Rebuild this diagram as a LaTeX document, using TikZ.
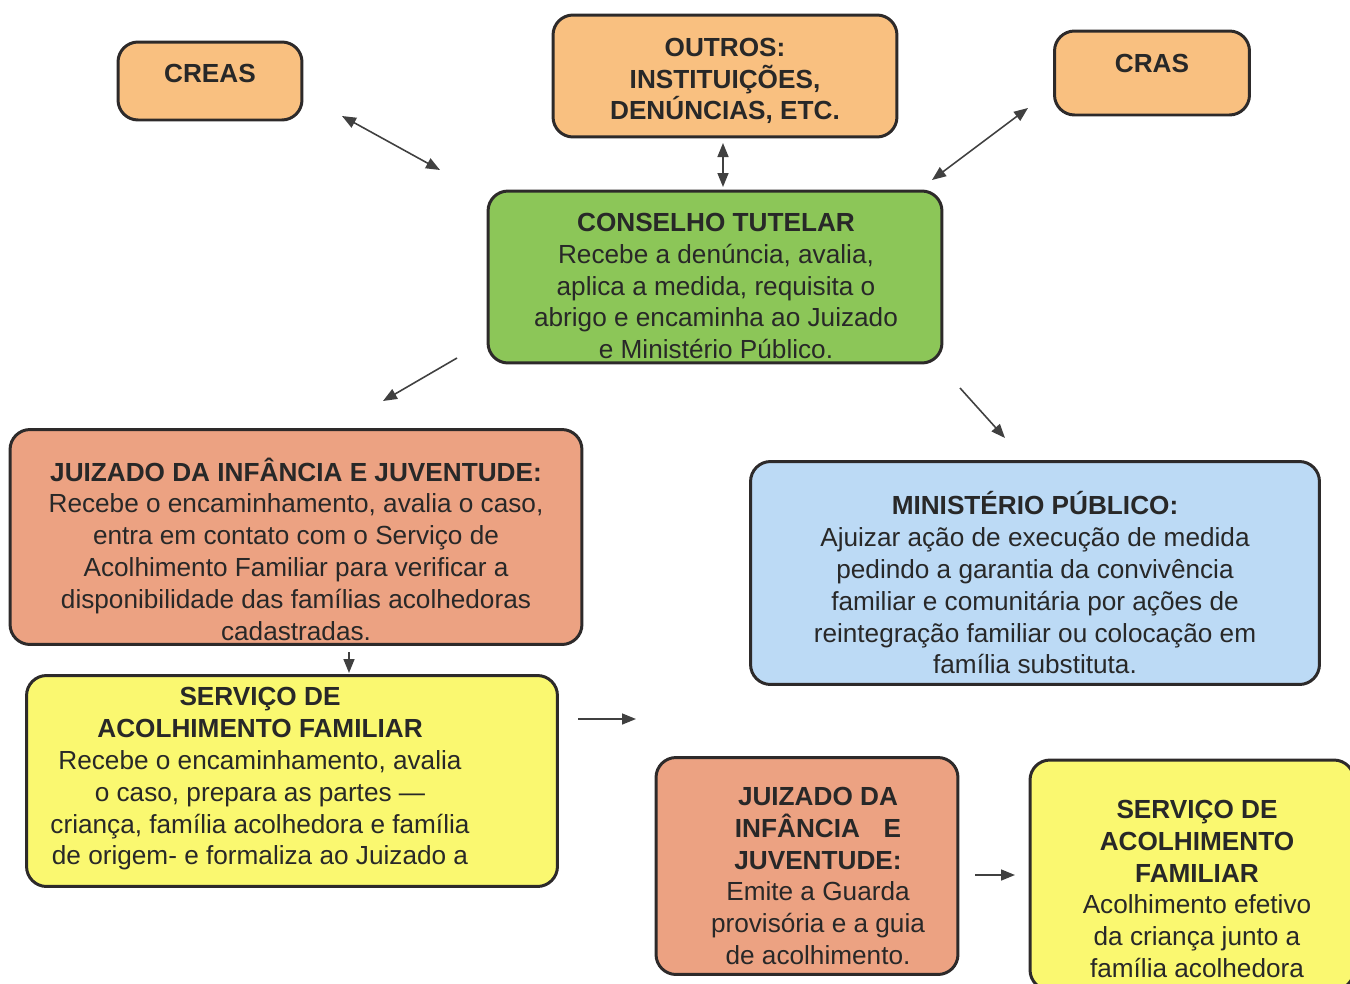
\documentclass[tikz,border=0pt]{standalone}
\usepackage{fontspec}
\setmainfont{Liberation Sans}
\usetikzlibrary{arrows.meta}

\definecolor{laranja}{RGB}{249,192,128}
\definecolor{verde}{RGB}{140,198,88}
\definecolor{salmao}{RGB}{236,162,130}
\definecolor{azul}{RGB}{188,218,245}
\definecolor{amarelo}{RGB}{250,248,112}
\definecolor{borda}{RGB}{45,42,42}
\definecolor{letra}{RGB}{40,40,40}

\tikzset{
  caixa/.style={draw=borda, line width=1.7pt, rounded corners=0.4cm},
  texto/.style={align=center, text=letra, inner sep=0pt,
    font=\fontsize{14.9}{18.1}\selectfont},
  seta/.style={-{Triangle[length=0.28cm,width=0.22cm]}, line width=0.9pt, draw=black!75},
  setadupla/.style={{Triangle[length=0.28cm,width=0.22cm]}-{Triangle[length=0.28cm,width=0.22cm]},
    line width=0.9pt, draw=black!75}
}

\begin{document}
\begin{tikzpicture}[x=0.02cm, y=-0.02cm]
\useasboundingbox (0,0) rectangle (1350,984);

% caixas
\node[caixa, fill=laranja, minimum width=3.68cm, minimum height=1.56cm] (creas) at (210,81) {};
\node[caixa, fill=laranja, minimum width=6.88cm, minimum height=2.44cm] (outros) at (725,76) {};
\node[caixa, fill=laranja, minimum width=3.9cm, minimum height=1.68cm] (cras) at (1152,73) {};
\node[caixa, fill=verde, minimum width=9.08cm, minimum height=3.44cm] (conselho) at (715,277) {};
\node[caixa, fill=salmao, minimum width=11.44cm, minimum height=4.3cm] (juizado) at (296,537) {};
\node[caixa, fill=azul, minimum width=11.38cm, minimum height=4.46cm] (ministerio) at (1035,573) {};
\node[caixa, fill=amarelo, minimum width=10.62cm, minimum height=4.22cm] (servico) at (292,781) {};
\node[caixa, fill=salmao, minimum width=6.04cm, minimum height=4.34cm] (juizadob) at (807,866) {};
\node[caixa, fill=amarelo, minimum width=6.48cm, minimum height=4.6cm] (servicob) at (1192,875) {};

% textos
\node[texto] (creastxt) at (210,73) {\textbf{CREAS}};
\node[texto] (outrostxt) at (725,81) {\textbf{OUTROS:}\\ \textbf{INSTITUIÇÕES,}\\ \textbf{DENÚNCIAS, ETC.}};
\node[texto] (crastxt) at (1152,63) {\textbf{CRAS}};
\node[texto] (conselhotxt) at (716,286) {\textbf{CONSELHO TUTELAR}\\ Recebe a denúncia, avalia,\\
  aplica a medida, requisita o\\ abrigo e encaminha ao Juizado\\ e Ministério Público.};
\node[texto] (juizadotxt) at (296,549) {\textbf{JUIZADO DA INFÂNCIA E JUVENTUDE:}\\
  Recebe o encaminhamento, avalia o caso,\\ entra em contato com o Serviço de\\
  Acolhimento Familiar para verificar a\\ disponibilidade das famílias acolhedoras\\ cadastradas.};
\node[texto] (ministeriotxt) at (1035,583) {\textbf{MINISTÉRIO PÚBLICO:}\\
  Ajuizar ação de execução de medida\\ pedindo a garantia da convivência\\
  familiar e comunitária por ações de\\ reintegração familiar ou colocação em\\ família substituta.};
\node[texto] (servicotxt) at (260,779) {\textbf{SERVIÇO DE}\\ \textbf{ACOLHIMENTO FAMILIAR}\\
  Recebe o encaminhamento, avalia\\ o caso, prepara as partes —\\
  criança, família acolhedora e família\\ de origem- e formaliza ao Juizado a};
\node[texto] (juizadobtxt) at (818,876) {\textbf{JUIZADO DA}\\ \textbf{INFÂNCIA\hspace{0.9em}E}\\ \textbf{JUVENTUDE:}\\
  Emite a Guarda\\ provisória e a guia\\ de acolhimento.};
\node[texto] (servicobtxt) at (1197,889) {\textbf{SERVIÇO DE}\\ \textbf{ACOLHIMENTO}\\ \textbf{FAMILIAR}\\
  Acolhimento efetivo\\ da criança junto a\\ família acolhedora};

% pontas das setas
\coordinate (c1) at (342,116); \coordinate (c2) at (440,170);
\coordinate (o1) at (723,143); \coordinate (o2) at (723,187);
\coordinate (r1) at (1028,108); \coordinate (r2) at (932,180);
\coordinate (j1) at (457,358); \coordinate (j2) at (383,401);
\coordinate (m1) at (960,388); \coordinate (m2) at (1005,438);
\coordinate (s1) at (349,652); \coordinate (s2) at (349,673);
\coordinate (d1) at (578,719); \coordinate (d2) at (636,719);
\coordinate (g1) at (975,875); \coordinate (g2) at (1015,875);

% setas
\draw[setadupla] (c1) -- (c2);
\draw[setadupla] (o1) -- (o2);
\draw[setadupla] (r1) -- (r2);
\draw[seta] (j1) -- (j2);
\draw[seta] (m1) -- (m2);
\draw[seta] (s1) -- (s2);
\draw[seta] (d1) -- (d2);
\draw[seta] (g1) -- (g2);
\end{tikzpicture}
\end{document}
